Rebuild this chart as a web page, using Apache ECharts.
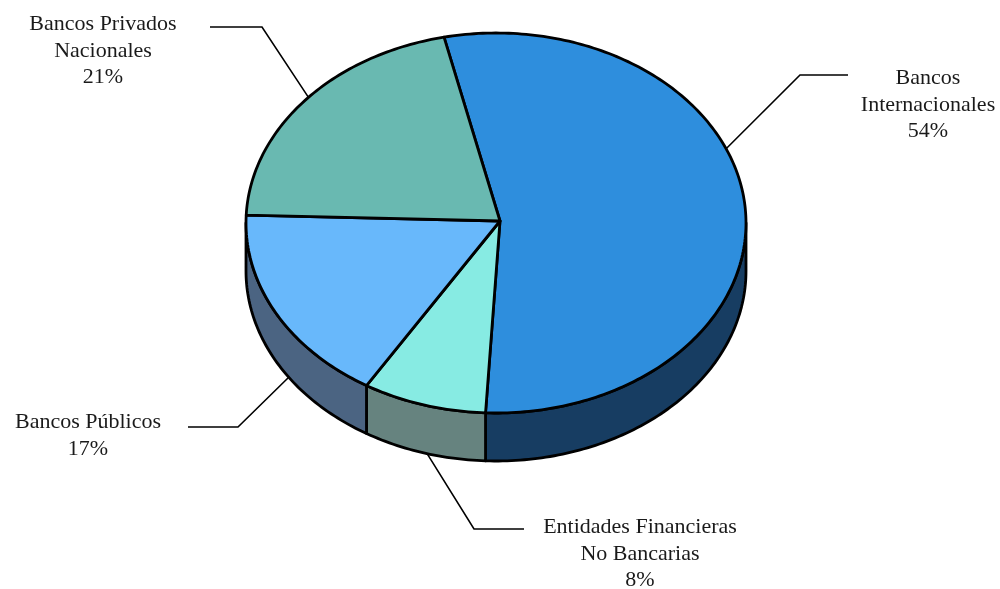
<!DOCTYPE html>
<html>
<head>
<meta charset="utf-8">
<script src="https://cdn.jsdelivr.net/npm/echarts@6/dist/echarts.min.js"></script>
<style>
  html, body { margin: 0; padding: 0; background: #ffffff; }
  #chart { width: 1000px; height: 589px; }
</style>
</head>
<body>
<div id="chart"></div>
<script>
// Market share by type of institution
const categories = ['Bancos Internacionales', 'Entidades Financieras No Bancarias', 'Bancos Públicos', 'Bancos Privados Nacionales'];
const labelLines = [['Bancos', 'Internacionales'], ['Entidades Financieras', 'No Bancarias'], ['Bancos Públicos'], ['Bancos Privados', 'Nacionales']];
const shares = [54, 8, 17, 21];

// Colours for the top faces and the side walls
const topColors = ['#2E8EDD', '#87EBE3', '#68B8FB', '#69B9B1'];
const wallColors = ['#173D62', '#66837F', '#4B6482', '#4B8580'];

// Pie geometry in axis units (x to the right, y downward); the apex sits slightly off the rim centre
const PIE = { cx: 0, cy: 0, rx: 1, ry: 0.76, depth: 0.192, startDeg: -102, apexDx: 0.016, apexDy: -0.008 };

// Label placement: leader anchor angle on the rim, which rim, elbow and end of leader, text centre and first line
const labelLayout = [
  { angle: -23, rim: 'top', elbow: [800, 75], end: [848, 75], text: [928, 65] },
  { angle: 106, rim: 'bottom', elbow: [474, 529], end: [524, 529], text: [640, 514] },
  { angle: 146, rim: 'bottom', elbow: [238, 427], end: [188, 427], text: [88, 409] },
  { angle: -138.6, rim: 'top', elbow: [262, 27], end: [210, 27], text: [103, 11] }
];

const total = shares.reduce((a, b) => a + b, 0);
const spans = [];
let acc = PIE.startDeg;
shares.forEach(v => {
  const sweep = v / total * 360;
  spans.push([acc, acc + sweep]);
  acc += sweep;
});

function rimPoint(api, deg, dy) {
  const t = deg * Math.PI / 180;
  return api.coord([PIE.cx + PIE.rx * Math.cos(t), PIE.cy + PIE.ry * Math.sin(t) + dy]);
}

function arcPoints(api, a, b, dy) {
  const pts = [];
  const n = Math.max(2, Math.ceil(Math.abs(b - a)));
  for (let i = 0; i <= n; i++) pts.push(rimPoint(api, a + (b - a) * i / n, dy));
  return pts;
}

// Front-facing part of a slice's span (y-down angles between 0 and 180, modulo 360)
function frontPart(a, b) {
  const parts = [];
  for (let k = -1; k <= 1; k++) {
    const lo = Math.max(a, k * 360), hi = Math.min(b, k * 360 + 180);
    if (hi > lo) parts.push([lo, hi]);
  }
  return parts;
}

const edge = { stroke: '#000000', lineWidth: 2.8, lineJoin: 'round' };

function renderWall(params, api) {
  const i = params.dataIndex;
  const [a, b] = spans[i];
  const children = frontPart(a, b).map(([lo, hi]) => {
    const top = arcPoints(api, lo, hi, 0);
    const bottom = arcPoints(api, hi, lo, PIE.depth);
    return {
      type: 'polygon',
      shape: { points: top.concat(bottom) },
      style: Object.assign({ fill: wallColors[i] }, edge)
    };
  });
  return { type: 'group', children };
}

function renderTop(params, api) {
  const i = params.dataIndex;
  const [a, b] = spans[i];
  const apex = api.coord([PIE.cx + PIE.apexDx, PIE.cy + PIE.apexDy]);
  const pts = [apex].concat(arcPoints(api, a, b, 0));
  const lay = labelLayout[i];
  const anchor = rimPoint(api, lay.angle, lay.rim === 'top' ? 0 : PIE.depth);
  return {
    type: 'group',
    children: [
      {
        type: 'polygon',
        shape: { points: pts },
        style: Object.assign({ fill: topColors[i] }, edge)
      },
      {
        type: 'polyline',
        shape: { points: [anchor, lay.elbow, lay.end] },
        style: { stroke: '#000000', lineWidth: 1.6, fill: null }
      },
      {
        type: 'text',
        x: lay.text[0],
        y: lay.text[1],
        style: {
          text: labelLines[i].concat([Math.round(shares[i] / total * 100) + '%']).join('\n'),
          align: 'center',
          verticalAlign: 'top',
          fontFamily: 'Liberation Serif, serif',
          fontSize: 22,
          lineHeight: 26.5,
          fill: '#1a1a1a'
        }
      }
    ]
  };
}

const chart = echarts.init(document.getElementById('chart'), null, { renderer: 'canvas' });
chart.setOption({
  animation: false,
  backgroundColor: '#ffffff',
  grid: { left: 0, right: 0, top: 0, bottom: 0 },
  xAxis: { type: 'value', min: -496 / 250, max: 504 / 250, show: false },
  yAxis: { type: 'value', inverse: true, min: -223 / 250, max: 366 / 250, show: false },
  series: [
    {
      type: 'custom',
      name: 'walls',
      renderItem: renderWall,
      data: shares.map((v, i) => ({ name: categories[i], value: v })),
      z: 1
    },
    {
      type: 'custom',
      name: 'tops',
      renderItem: renderTop,
      data: shares.map((v, i) => ({ name: categories[i], value: v })),
      z: 2
    }
  ]
});
</script>
</body>
</html>
